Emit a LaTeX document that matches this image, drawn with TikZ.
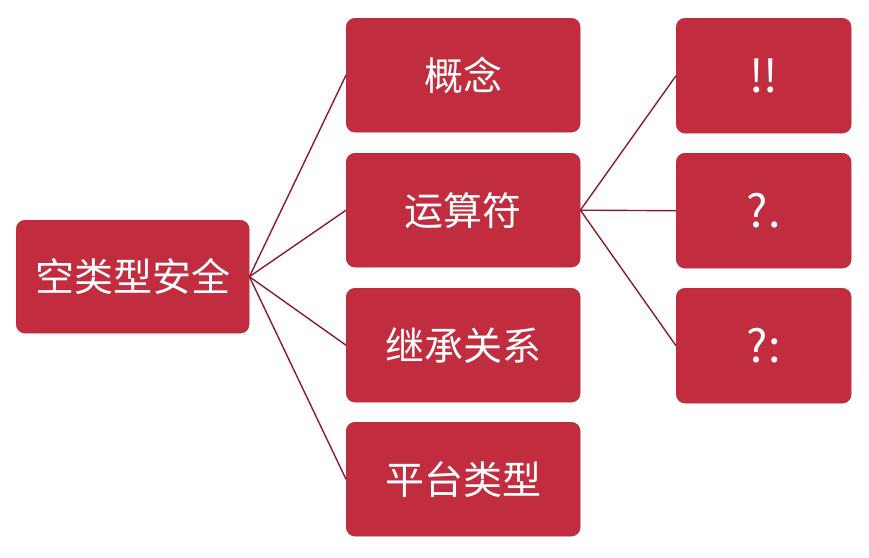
\documentclass[tikz,border=0pt]{standalone}
\usepackage{fontspec}
\newfontfamily\cjk{Noto Sans CJK SC}
\definecolor{boxred}{HTML}{C12D3F}
\definecolor{linered}{HTML}{8C1B2E}
\begin{document}
\begin{tikzpicture}[x=1pt,y=-1pt,
  box/.style={fill=boxred,draw=boxred!90!black,line width=0.4pt,rounded corners=9pt,text=white,font=\cjk\fontsize{39}{44}\selectfont,inner sep=0pt,anchor=north west},
  opbox/.style={box,minimum width=175pt,minimum height=115pt,font=\cjk\fontsize{45}{50}\selectfont},
  conn/.style={draw=linered,line width=1.4pt}]
\useasboundingbox (0,0) rectangle (869,557);
\node[box,minimum width=233pt,minimum height=113pt] (root) at (16,220) {空类型安全};
\node[box,minimum width=234pt,minimum height=114pt] (a) at (346,18) {概念};
\node[box,minimum width=234pt,minimum height=114pt] (b) at (346,153) {运算符};
\node[box,minimum width=234pt,minimum height=114pt] (c) at (346,288) {继承关系};
\node[box,minimum width=234pt,minimum height=114pt] (d) at (346,422) {平台类型};
\node[opbox] (e) at (676,18) {!!};
\node[opbox] (f) at (676,153) {?.};
\node[opbox] (g) at (676,288) {?:};
\foreach \t in {a,b,c,d} \draw[conn] (root.east) -- (\t.west);
\foreach \t in {e,f,g} \draw[conn] (b.east) -- (\t.west);
\end{tikzpicture}
\end{document}
